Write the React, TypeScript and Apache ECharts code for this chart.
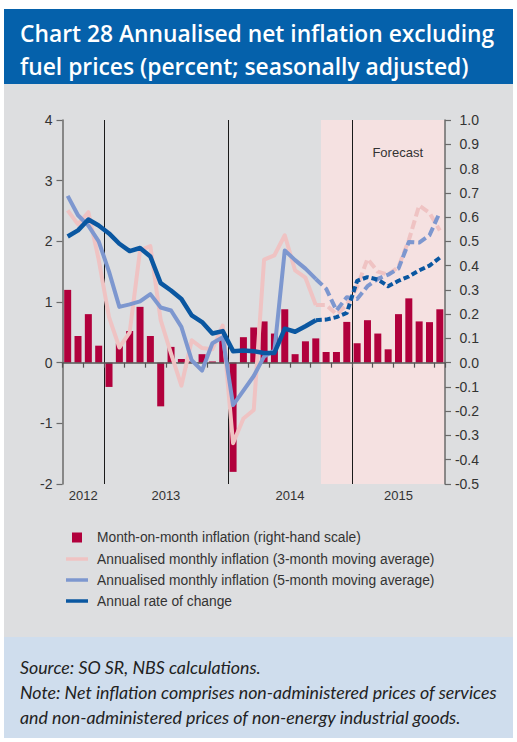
import React, { useEffect, useRef } from 'react';
import * as echarts from 'echarts';

// ---------- data ----------
const months = [
  '2012-09', '2012-10', '2012-11', '2012-12',
  '2013-01', '2013-02', '2013-03', '2013-04', '2013-05', '2013-06',
  '2013-07', '2013-08', '2013-09', '2013-10', '2013-11', '2013-12',
  '2014-01', '2014-02', '2014-03', '2014-04', '2014-05', '2014-06',
  '2014-07', '2014-08', '2014-09', '2014-10', '2014-11', '2014-12',
  '2015-01', '2015-02', '2015-03', '2015-04', '2015-05', '2015-06',
  '2015-07', '2015-08', '2015-09',
];
const years = ['2012', '2013', '2014', '2015'];
const forecastStartMonth = '2014-10';

// month-on-month inflation, right-hand scale
const momInflation = [
  0.30, 0.11, 0.20, 0.07,
  -0.10, 0.08, 0.13, 0.23, 0.11, -0.18, 0.065, 0.015, 0.005, 0.035, 0.005, 0.10,
  -0.45, 0.105, 0.145, 0.17, 0.12, 0.22, 0.035, 0.088, 0.10, 0.044, 0.044, 0.168,
  0.08, 0.175, 0.12, 0.055, 0.20, 0.265, 0.17, 0.167, 0.22,
];
// annualised monthly inflation, 3-month moving average
const annualised3m = [
  2.51, 2.28, 2.48, 1.70,
  0.75, 0.25, 0.50, 1.85, 1.92, 0.70, 0.15, -0.38, 0.37, 0.24, 0.22, 0.61,
  -1.33, -0.92, -0.78, 1.70, 1.77, 2.10, 1.52, 1.40, 0.95, 0.95, 0.80, 0.95,
  1.25, 1.71, 1.50, 1.45, 1.58, 2.02, 2.59, 2.47, 2.18,
];
// annualised monthly inflation, 5-month moving average
const annualised5m = [
  2.75, 2.43, 2.26, 2.00,
  1.50, 0.92, 0.96, 1.01, 1.13, 0.91, 0.86, 0.59, 0.04, -0.13, 0.32, 0.42,
  -0.70, -0.46, -0.22, 0.10, 0.20, 1.85, 1.69, 1.55, 1.38, 1.22, 0.86, 1.08,
  1.05, 1.26, 1.38, 1.45, 1.55, 1.99, 1.98, 2.10, 2.48,
];
// annual rate of change
const annualRate = [
  2.08, 2.18, 2.36, 2.26,
  2.13, 1.96, 1.84, 1.89, 1.75, 1.31, 1.19, 1.05, 0.78, 0.67, 0.48, 0.52,
  0.19, 0.20, 0.19, 0.16, 0.16, 0.56, 0.51, 0.60, 0.70, 0.71, 0.75, 0.82,
  1.35, 1.41, 1.37, 1.26, 1.35, 1.42, 1.52, 1.60, 1.73,
];

const leftAxisRange = [-2, 4];
const leftAxisStep = 1;
const rightAxisRange = [-0.5, 1.0];
const rightAxisStep = 0.1;

const titleLines = [
  'Chart 28 Annualised net inflation excluding',
  'fuel prices (percent; seasonally adjusted)',
];
const sourceLines = [
  'Source: SO SR, NBS calculations.',
  'Note: Net inflation comprises non-administered prices of services',
  'and non-administered prices of non-energy industrial goods.',
];
const seriesNames = [
  'Month-on-month inflation (right-hand scale)',
  'Annualised monthly inflation (3-month moving average)',
  'Annualised monthly inflation (5-month moving average)',
  'Annual rate of change',
];
const forecastLabel = 'Forecast';

// ---------- styles ----------
const C_BAR = '#b1003c';
const C_PINK = '#efc3c3';
const C_LBLUE = '#7d97cf';
const C_DBLUE = '#0a57a1';
const FONT = '"Liberation Sans", Arial, sans-serif';

export default function App() {
  const ref = useRef<HTMLDivElement>(null);

  useEffect(() => {
    if (!ref.current) return;
    const chart = echarts.init(ref.current, undefined, { renderer: 'svg' });

    const fStart = months.indexOf(forecastStartMonth);
    const solid = (arr: number[]) => arr.map((v, i) => (i <= fStart - 1 ? v : null));
    const dashed = (arr: number[]) => arr.map((v, i) => (i >= fStart - 1 ? v : null));

    const yearStarts = years.map((y) => months.findIndex((m) => m.startsWith(y)));
    const yearEnds = years.map((y) => {
      let last = -1;
      months.forEach((m, i) => { if (m.startsWith(y)) last = i; });
      return last + 1;
    });
    const yearCenters = years.map((_, k) => (yearStarts[k] + yearEnds[k]) / 2);

    const lineSeries = (name: string, data: (number | null)[], color: string, width: number, type: any, z: number) => ({
      name,
      type: 'line',
      data,
      xAxisIndex: 0,
      yAxisIndex: 0,
      symbol: 'none',
      connectNulls: false,
      z,
      lineStyle: { color, width, type, cap: 'butt', join: 'round' },
      itemStyle: { color },
    });

    const legendY = [537.5, 559, 580, 601];

    const option: any = {
      animation: false,
      grid: { left: 62.5, right: 72, top: 120, bottom: 258, containLabel: false },
      xAxis: [
        {
          type: 'category',
          data: months,
          boundaryGap: true,
          z: 3,
          axisLine: { onZero: true, onZeroAxisIndex: 0, lineStyle: { color: '#555', width: 1.5 } },
          axisTick: { show: true, interval: 1, length: 5, lineStyle: { color: '#555', width: 1.2 } },
          axisLabel: { show: false },
          splitLine: { show: false },
        },
        {
          type: 'value',
          min: 0,
          max: months.length,
          position: 'bottom',
          axisLine: { show: false, onZero: false },
          axisTick: { show: false },
          splitLine: { show: false },
          axisLabel: {
            customValues: yearCenters,
            formatter: (v: number) => {
              const k = yearCenters.findIndex((c) => Math.abs(c - v) < 0.01);
              return k >= 0 ? years[k] : '';
            },
            color: '#333',
            fontSize: 13,
            margin: 5,
            fontFamily: FONT,
          },
        },
      ],
      yAxis: [
        {
          type: 'value',
          position: 'left',
          min: leftAxisRange[0],
          max: leftAxisRange[1],
          interval: leftAxisStep,
          z: 3,
          axisLine: { show: true, onZero: false, lineStyle: { color: '#6a6a6a', width: 1.5 } },
          axisTick: { show: true, length: 6, lineStyle: { color: '#6a6a6a', width: 1.2 } },
          axisLabel: { color: '#333', fontSize: 14, margin: 10, fontFamily: FONT },
          splitLine: { show: false },
        },
        {
          type: 'value',
          position: 'right',
          min: rightAxisRange[0],
          max: rightAxisRange[1],
          interval: rightAxisStep,
          z: 3,
          axisLine: { show: true, onZero: false, lineStyle: { color: '#6a6a6a', width: 1.5 } },
          axisTick: { show: true, length: 6, lineStyle: { color: '#6a6a6a', width: 1.2 } },
          axisLabel: {
            color: '#333', fontSize: 14, margin: 34, align: 'right', fontFamily: FONT,
            formatter: (v: number) => (Math.abs(v) < 1e-9 ? 0 : v).toFixed(1),
          },
          splitLine: { show: false },
        },
      ],
      series: [
        {
          type: 'line',
          name: 'helper',
          xAxisIndex: 1,
          yAxisIndex: 0,
          data: [],
          silent: true,
          markArea: {
            silent: true,
            z: 1,
            itemStyle: { color: '#f5e1e1' },
            label: {
              show: true,
              position: 'insideTopRight',
              distance: 22,
              offset: [0, 4],
              formatter: forecastLabel,
              color: '#333',
              fontSize: 13,
              fontFamily: FONT,
            },
            data: [[{ xAxis: fStart }, { xAxis: months.length }]],
          },
          markLine: {
            silent: true,
            z: 1.5,
            symbol: ['none', 'none'],
            label: { show: false },
            lineStyle: { color: '#1a1a1a', width: 1, type: 'solid' },
            data: yearStarts.slice(1).map((i) => ({ xAxis: i })),
          },
        },
        {
          name: seriesNames[0],
          type: 'bar',
          data: momInflation,
          xAxisIndex: 0,
          yAxisIndex: 1,
          barWidth: 7,
          z: 2,
          itemStyle: { color: C_BAR },
        },
        lineSeries(seriesNames[1], solid(annualised3m), C_PINK, 4, 'solid', 4),
        lineSeries(seriesNames[1], dashed(annualised3m), C_PINK, 4, [9, 4], 4),
        lineSeries(seriesNames[2], solid(annualised5m), C_LBLUE, 4, 'solid', 5),
        lineSeries(seriesNames[2], dashed(annualised5m), C_LBLUE, 4, [9, 4], 5),
        lineSeries(seriesNames[3], solid(annualRate), C_DBLUE, 4.5, 'solid', 6),
        lineSeries(seriesNames[3], dashed(annualRate), C_DBLUE, 4, [6, 3], 6),
      ],
      graphic: [
        { type: 'rect', z: -10, silent: true, shape: { x: 4, y: 84, width: 509, height: 553 }, style: { fill: '#dddee0' } },
        { type: 'rect', z: -10, silent: true, shape: { x: 4, y: 9, width: 509, height: 75 }, style: { fill: '#0561ab' } },
        { type: 'rect', z: -10, silent: true, shape: { x: 4, y: 637, width: 509, height: 101 }, style: { fill: '#cfdded' } },
        ...titleLines.map((t, k) => ({
          type: 'text', z: 10, silent: true,
          style: {
            text: t, x: 20, y: 33 + k * 33, fill: '#ffffff',
            fontSize: 22.8, fontWeight: 600, fontFamily: '"Open Sans", "Noto Sans", sans-serif',
            verticalAlign: 'middle', align: 'left',
          },
        })),
        ...sourceLines.map((t, k) => ({
          type: 'text', z: 10, silent: true,
          style: {
            text: t, x: 20, y: 667 + k * 25, fill: '#222',
            fontSize: 17.8, fontStyle: 'italic', fontFamily: 'Lato, "Open Sans", sans-serif',
            verticalAlign: 'middle', align: 'left',
          },
        })),
        { type: 'rect', z: 10, silent: true, shape: { x: 72, y: legendY[0] - 5, width: 10, height: 10 }, style: { fill: C_BAR } },
        ...[C_PINK, C_LBLUE, C_DBLUE].map((c, k) => ({
          type: 'line', z: 10, silent: true,
          shape: { x1: 66, y1: legendY[k + 1], x2: 88, y2: legendY[k + 1] },
          style: { stroke: c, lineWidth: 3.5 },
        })),
        ...seriesNames.map((t, k) => ({
          type: 'text', z: 10, silent: true,
          style: {
            text: t, x: 97, y: legendY[k], fill: '#333',
            fontSize: 13.8, fontFamily: FONT, verticalAlign: 'middle', align: 'left',
          },
        })),
      ],
    };

    chart.setOption(option);
    return () => chart.dispose();
  }, []);

  return (
    <div
      ref={ref}
      style={{ position: 'absolute', left: 0, top: 0, width: 517, height: 742, background: '#ffffff' }}
    />
  );
}
